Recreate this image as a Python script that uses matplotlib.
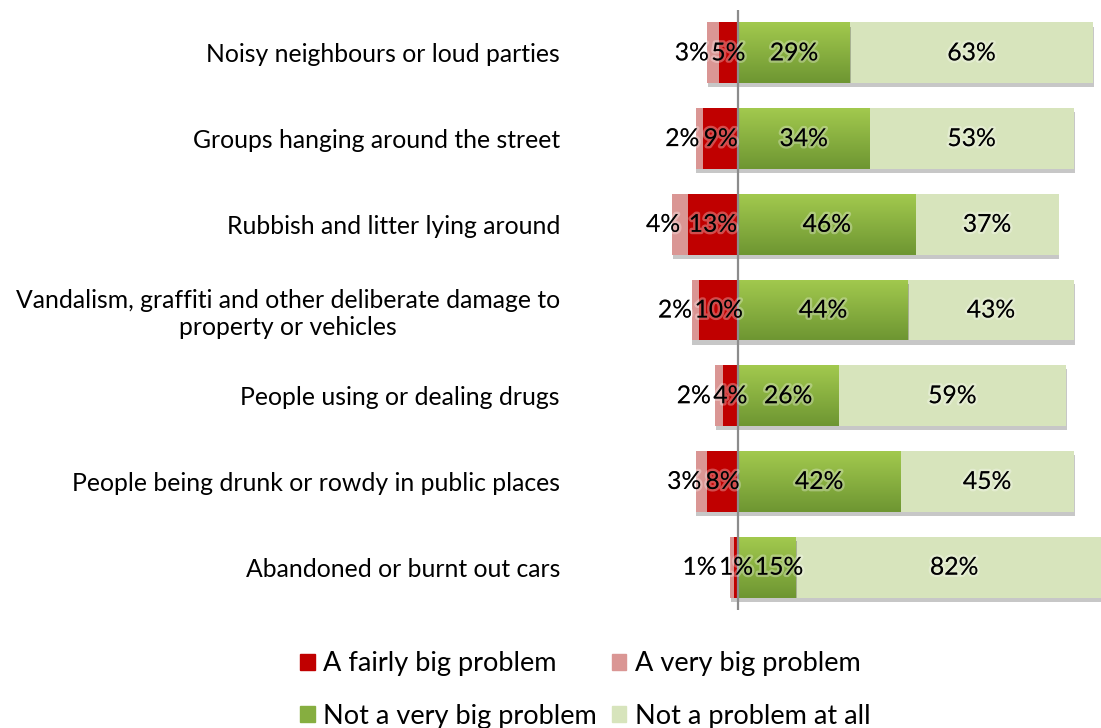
import matplotlib
matplotlib.use('Agg')
import matplotlib.pyplot as plt
import matplotlib.patheffects as pe
import numpy as np
from matplotlib.patches import Patch

# Survey answers per issue, top to bottom (percent)
issues = ['Noisy neighbours or loud parties',
          'Groups hanging around the street',
          'Rubbish and litter lying around',
          'Vandalism, graffiti and other deliberate damage to\nproperty or vehicles',
          'People using or dealing drugs',
          'People being drunk or rowdy in public places',
          'Abandoned or burnt out cars']
fairly_big = [5, 9, 13, 10, 4, 8, 1]
very_big = [3, 2, 4, 2, 2, 3, 1]
not_very_big = [29, 34, 46, 44, 26, 42, 15]
not_at_all = [63, 53, 37, 43, 59, 45, 82]

red = '#C00000'
pink = '#DA9694'
green_top = '#A2C94E'
green_bot = '#6E9632'
pale = '#D7E4BC'

plt.rcParams['font.family'] = ['Lato', 'DejaVu Sans']
fs = 17.8

fig = plt.figure(figsize=(11.01, 7.28), dpi=100)
ax = fig.add_axes([640 / 1101, 118 / 728, 461 / 1101, 600 / 728])

y = np.arange(len(issues))
h = 0.71
shadow = [pe.SimplePatchShadow(offset=(0.5, -3), shadow_rgbFace='black', alpha=0.22), pe.Normal()]

fb = np.array(fairly_big)
vb = np.array(very_big)
nv = np.array(not_very_big)
na = np.array(not_at_all)

b1 = ax.barh(y, -fb, height=h, color=red, zorder=2)
b2 = ax.barh(y, -vb, left=-fb, height=h, color=pink, zorder=2)
b3 = ax.barh(y, nv, height=h, color=green_top, zorder=2)
b4 = ax.barh(y, na, left=nv, height=h, color=pale, zorder=2)
for bars in (b2, b4):
    for r in bars:
        r.set_path_effects(shadow)

# vertical gradient on the "not a very big problem" bars
c_top = np.array(matplotlib.colors.to_rgb(green_top))
c_bot = np.array(matplotlib.colors.to_rgb(green_bot))
t = np.linspace(0, 1, 64)[:, None]
grad = (c_top * (1 - t) + c_bot * t)[:, None, :]
for r in b3:
    x0, y0 = r.get_x(), r.get_y()
    im = ax.imshow(grad, extent=[x0, x0 + r.get_width(), y0 + r.get_height(), y0],
                   aspect='auto', zorder=2.5, interpolation='bilinear')
    im.set_clip_path(r)

# shadow strips under the red and green bars
for bars in (b1, b3):
    for r in bars:
        r.set_path_effects(shadow)
        r.set_zorder(2.4)

ax.set_xlim(-25.4, 94.0)
ax.set_ylim(len(issues) - 0.5, -0.5)
ax.axvline(0, color='#8C8C8C', lw=1.6, zorder=4)

glow = [pe.withStroke(linewidth=3.5, foreground=(1, 1, 1, 0.3))]
fig.canvas.draw()
renderer = fig.canvas.get_renderer()
inv = ax.transData.inverted()


def span(txt):
    bb = txt.get_window_extent(renderer)
    return inv.transform((bb.x0, 0))[0], inv.transform((bb.x1, 0))[0]


for i in y:
    t1 = ax.text(-fb[i] / 2, i, f'{fb[i]}%', ha='center', va='center', fontsize=fs,
                 zorder=5, path_effects=glow)
    l1, r1 = span(t1)
    # keep the neighbouring labels from running into the small red one
    xr = min(-(fb[i] + vb[i] / 2), l1 - 0.6)
    ax.text(xr, i, f'{vb[i]}%', ha='right', va='center', fontsize=fs,
            zorder=5, path_effects=glow)
    t3 = ax.text(nv[i] / 2, i, f'{nv[i]}%', ha='center', va='center', fontsize=fs,
                 zorder=5, path_effects=glow)
    l3, r3 = span(t3)
    if l3 < r1 + 0.4:
        t3.set_x(nv[i] / 2 + (r1 + 0.4 - l3))
    ax.text(nv[i] + na[i] / 2, i, f'{na[i]}%', ha='center', va='center', fontsize=fs,
            zorder=5, path_effects=glow)

ax.set_yticks(y)
ax.set_yticklabels(issues, fontsize=fs, multialignment='center')
ax.tick_params(axis='y', length=0, pad=57.6)
ax.set_xticks([])
for s in ax.spines.values():
    s.set_visible(False)

handles = [Patch(color=red), Patch(color='#86AE40'), Patch(color=pink), Patch(color=pale)]
labels = ['A fairly big problem', 'Not a very big problem', 'A very big problem', 'Not a problem at all']
fig.legend(handles, labels, ncol=2, loc='center', bbox_to_anchor=(585 / 1101, 1 - 690 / 728),
           frameon=False, fontsize=19.5, handlelength=0.55, handleheight=0.55,
           handletextpad=0.3, columnspacing=0.55, labelspacing=1.0)

fig.savefig('out.png', dpi=100)
